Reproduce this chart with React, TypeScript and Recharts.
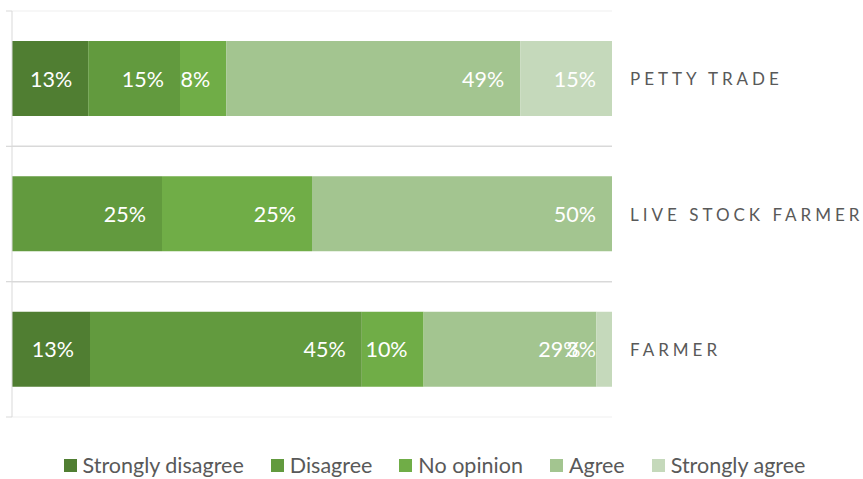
import React from 'react';
import { BarChart, Bar, XAxis, YAxis, Legend, LabelList, ReferenceLine } from 'recharts';

const categories = ['PETTY TRADE', 'LIVE STOCK FARMER', 'FARMER'];
const stronglyDisagree = [12.7, 0, 13.0];
const disagree = [15.3, 25, 45.3];
const noOpinion = [7.7, 25, 10.3];
const agree = [49.0, 50, 28.8];
const stronglyAgree = [15.3, 0, 2.6];

const series = [
  { key: 'sd', name: 'Strongly disagree', values: stronglyDisagree, color: '#507e32' },
  { key: 'd', name: 'Disagree', values: disagree, color: '#629a3e' },
  { key: 'n', name: 'No opinion', values: noOpinion, color: '#70ad47' },
  { key: 'a', name: 'Agree', values: agree, color: '#a3c590' },
  { key: 'sa', name: 'Strongly agree', values: stronglyAgree, color: '#c5d9bb' },
];

const data = categories.map((name, i) => {
  const row: Record<string, string | number> = { name };
  series.forEach((s) => {
    row[s.key] = s.values[i];
  });
  return row;
});

const FONT = 'Lato, "Open Sans", sans-serif';

const makeLabel = (showZero: boolean) => (props: any) => {
  const { x, y, width, height, value } = props;
  if (value === 0 && !showZero) return null;
  const endX = value === 0 ? x + 18 : x + width - 16;
  return (
    <text
      x={endX}
      y={y + height / 2}
      textAnchor="end"
      dominantBaseline="central"
      fill="#ffffff"
      fontSize={21.5}
      fontFamily={FONT}
    >
      {Math.round(value)}%
    </text>
  );
};

const CategoryTick = (props: any) => {
  const { x, y, payload } = props;
  return (
    <text
      x={x + 18}
      y={y}
      dominantBaseline="central"
      fill="#595959"
      fontSize={17}
      fontFamily={FONT}
      letterSpacing={4}
    >
      {payload.value}
    </text>
  );
};

// small tick marks at the band edges of the left axis
const EdgeTick = (props: any) => {
  const { x, y, payload } = props;
  const half = payload.offset || 0;
  return (
    <g>
      <line x1={x - 6} x2={x} y1={y - half} y2={y - half} stroke="#d9d9d9" />
      <line x1={x - 6} x2={x} y1={y + half} y2={y + half} stroke="#d9d9d9" />
    </g>
  );
};

const LegendContent = () => (
  <div
    style={{
      display: 'flex',
      justifyContent: 'center',
      alignItems: 'center',
      height: 24,
      fontFamily: FONT,
      fontSize: 21.5,
      lineHeight: '24px',
      color: '#595959',
      paddingLeft: 6,
    }}
  >
    {series.map((s) => (
      <div key={s.key} style={{ display: 'flex', alignItems: 'center', margin: '0 13.5px' }}>
        <span style={{ width: 13, height: 13, background: s.color, marginRight: 6, display: 'inline-block' }} />
        <span>{s.name}</span>
      </div>
    ))}
  </div>
);

export default function App() {
  return (
    <div style={{ position: 'absolute', left: 0, top: 0, width: 863, height: 479, background: '#fff' }}>
      <BarChart
        width={863}
        height={479}
        data={data}
        layout="vertical"
        margin={{ top: 11, right: 0, bottom: 38, left: 0 }}
        barSize={75}
      >
        <XAxis type="number" domain={[0, 100]} hide />
        <YAxis
          yAxisId="left"
          type="category"
          dataKey="name"
          orientation="left"
          width={12}
          tickSize={0}
          tickMargin={0}
          tickLine={false}
          tick={<EdgeTick />}
          axisLine={{ stroke: '#d9d9d9' }}
        />
        <YAxis
          yAxisId="cat"
          type="category"
          dataKey="name"
          orientation="right"
          width={251}
          axisLine={false}
          tickLine={false}
          tickSize={0}
          tickMargin={0}
          tick={<CategoryTick />}
        />
        <ReferenceLine yAxisId="cat" y={categories[0]} position="start" stroke="#efefef" />
        {categories.map((c, i) => (
          <ReferenceLine
            key={c}
            yAxisId="cat"
            y={c}
            position="end"
            stroke={i === categories.length - 1 ? '#efefef' : '#d9d9d9'}
            strokeWidth={i === categories.length - 1 ? 1 : 1.5}
          />
        ))}
        {series.map((s, i) => (
          <Bar
            key={s.key}
            yAxisId="cat"
            dataKey={s.key}
            name={s.name}
            stackId="a"
            fill={s.color}
            isAnimationActive={false}
          >
            <LabelList dataKey={s.key} content={makeLabel(i === 0)} />
          </Bar>
        ))}
        <Legend
          verticalAlign="bottom"
          content={<LegendContent />}
          wrapperStyle={{ position: 'absolute', top: 453, left: 0, width: 863 }}
        />
      </BarChart>
    </div>
  );
}
